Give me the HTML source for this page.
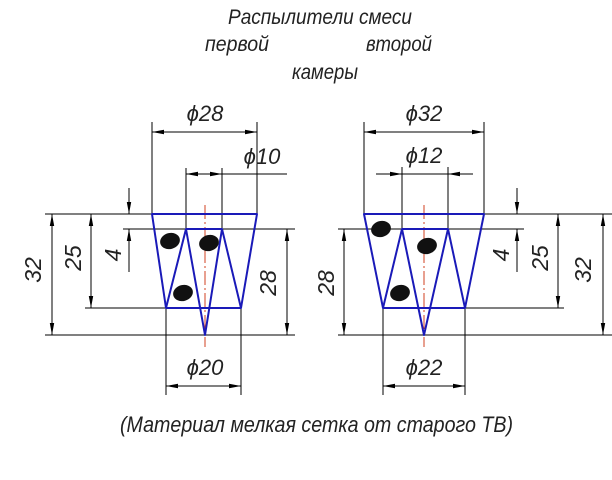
<!DOCTYPE html>
<html><head><meta charset="utf-8"><style>
html,body{margin:0;padding:0;background:#fff;}
svg{display:block;}
text{font-family:"Liberation Sans",sans-serif;font-style:italic;fill:#222;}
</style></head><body>
<svg width="612" height="480" viewBox="0 0 612 480" xmlns="http://www.w3.org/2000/svg">
<defs>
<marker id="a" viewBox="0 0 12 6" refX="12" refY="3" markerWidth="12" markerHeight="6" markerUnits="userSpaceOnUse" orient="auto-start-reverse">
<path d="M0,0.8 L12,3 L0,5.2 z" fill="#000"/></marker>
</defs>
<g stroke="#000" stroke-width="1" fill="none">
<line x1="152" y1="122" x2="152" y2="214"/>
<line x1="257" y1="122" x2="257" y2="214"/>
<line x1="152" y1="132" x2="257" y2="132" marker-start="url(#a)" marker-end="url(#a)"/>
<line x1="186" y1="168" x2="186" y2="229"/>
<line x1="222" y1="168" x2="222" y2="229"/>
<line x1="186" y1="174" x2="222" y2="174" marker-start="url(#a)" marker-end="url(#a)"/>
<line x1="222" y1="174" x2="287" y2="174"/>
<line x1="45" y1="214" x2="152" y2="214"/>
<line x1="45" y1="335" x2="295" y2="335"/>
<line x1="85" y1="308" x2="166" y2="308"/>
<line x1="123" y1="229" x2="295" y2="229"/>
<line x1="52" y1="214" x2="52" y2="335" marker-start="url(#a)" marker-end="url(#a)"/>
<line x1="91" y1="214" x2="91" y2="308" marker-start="url(#a)" marker-end="url(#a)"/>
<line x1="129" y1="188" x2="129" y2="214" marker-end="url(#a)"/>
<line x1="129" y1="272" x2="129" y2="229" marker-end="url(#a)"/>
<line x1="287" y1="229" x2="287" y2="335" marker-start="url(#a)" marker-end="url(#a)"/>
<line x1="166" y1="308" x2="166" y2="395"/>
<line x1="241" y1="308" x2="241" y2="395"/>
<line x1="166" y1="386" x2="241" y2="386" marker-start="url(#a)" marker-end="url(#a)"/>
<line x1="364" y1="122" x2="364" y2="214"/>
<line x1="484" y1="122" x2="484" y2="214"/>
<line x1="364" y1="132" x2="484" y2="132" marker-start="url(#a)" marker-end="url(#a)"/>
<line x1="402" y1="167" x2="402" y2="229"/>
<line x1="448" y1="167" x2="448" y2="229"/>
<line x1="376" y1="174" x2="473" y2="174"/>
<line x1="376" y1="174" x2="402" y2="174" marker-end="url(#a)"/>
<line x1="473" y1="174" x2="448" y2="174" marker-end="url(#a)"/>
<line x1="484" y1="214" x2="612" y2="214"/>
<line x1="338" y1="229" x2="524" y2="229"/>
<line x1="338" y1="335" x2="612" y2="335"/>
<line x1="465" y1="308" x2="564" y2="308"/>
<line x1="344" y1="229" x2="344" y2="335" marker-start="url(#a)" marker-end="url(#a)"/>
<line x1="517" y1="188" x2="517" y2="214" marker-end="url(#a)"/>
<line x1="517" y1="272" x2="517" y2="229" marker-end="url(#a)"/>
<line x1="558" y1="214" x2="558" y2="308" marker-start="url(#a)" marker-end="url(#a)"/>
<line x1="603" y1="214" x2="603" y2="335" marker-start="url(#a)" marker-end="url(#a)"/>
<line x1="383" y1="308" x2="383" y2="395"/>
<line x1="465" y1="308" x2="465" y2="395"/>
<line x1="383" y1="386" x2="465" y2="386" marker-start="url(#a)" marker-end="url(#a)"/>
</g>
<g stroke="#d04020" stroke-width="1" stroke-dasharray="14,3,2,3">
<line x1="205" y1="205" x2="205" y2="347"/>
<line x1="424" y1="205" x2="424" y2="347"/>
</g>
<g stroke="#1a1ab8" stroke-width="2" fill="none" stroke-linejoin="round">
<polygon points="152,214 257,214 241,308 166,308"/>
<polyline points="166,308 186,229 205,335 222,229 241,308"/>
<line x1="186" y1="229" x2="222" y2="229"/>
<polygon points="364,214 484,214 465,308 383,308"/>
<polyline points="383,308 402,229 424,335 448,229 465,308"/>
<line x1="402" y1="229" x2="448" y2="229"/>
</g>
<g fill="#111">
<ellipse cx="170" cy="241" rx="10" ry="8" transform="rotate(-15 170 241)"/>
<ellipse cx="209" cy="243" rx="10" ry="8" transform="rotate(-15 209 243)"/>
<ellipse cx="183" cy="293" rx="10" ry="8" transform="rotate(-15 183 293)"/>
<ellipse cx="381" cy="229" rx="10" ry="8" transform="rotate(-15 381 229)"/>
<ellipse cx="427" cy="246" rx="10" ry="8" transform="rotate(-15 427 246)"/>
<ellipse cx="400" cy="293" rx="10" ry="8" transform="rotate(-15 400 293)"/>
</g>
<g font-size="21">
<text x="228" y="24" textLength="184" lengthAdjust="spacingAndGlyphs">Распылители смеси</text>
<text x="205" y="51" textLength="64" lengthAdjust="spacingAndGlyphs">первой</text>
<text x="366" y="51" textLength="66" lengthAdjust="spacingAndGlyphs">второй</text>
<text x="292" y="79" textLength="66" lengthAdjust="spacingAndGlyphs">камеры</text>
<text x="120" y="432" font-size="22" textLength="393" lengthAdjust="spacingAndGlyphs">(Материал мелкая сетка от старого ТВ)</text>
<text x="205" y="121" text-anchor="middle" font-size="22">ϕ28</text>
<text x="262" y="164" text-anchor="middle" font-size="22">ϕ10</text>
<text x="205" y="375" text-anchor="middle" font-size="22">ϕ20</text>
<text x="424" y="121" text-anchor="middle" font-size="22">ϕ32</text>
<text x="424" y="163" text-anchor="middle" font-size="22">ϕ12</text>
<text x="424" y="375" text-anchor="middle" font-size="22">ϕ22</text>
<text transform="translate(41,270) rotate(-90)" text-anchor="middle" font-size="23">32</text>
<text transform="translate(81,258) rotate(-90)" text-anchor="middle" font-size="23">25</text>
<text transform="translate(121,255) rotate(-90)" text-anchor="middle" font-size="23">4</text>
<text transform="translate(276,283) rotate(-90)" text-anchor="middle" font-size="23">28</text>
<text transform="translate(334,283) rotate(-90)" text-anchor="middle" font-size="23">28</text>
<text transform="translate(509,255) rotate(-90)" text-anchor="middle" font-size="23">4</text>
<text transform="translate(548,258) rotate(-90)" text-anchor="middle" font-size="23">25</text>
<text transform="translate(591,270) rotate(-90)" text-anchor="middle" font-size="23">32</text>
</g>
</svg>
</body></html>
